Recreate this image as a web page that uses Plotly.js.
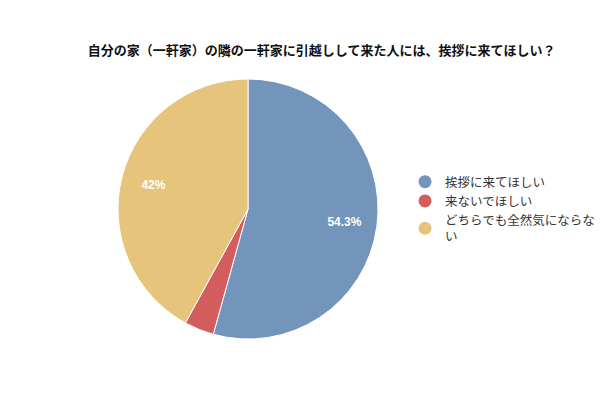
<!DOCTYPE html>
<html>
<head>
<meta charset="utf-8">
<script src="https://cdn.plot.ly/plotly-3.0.1.min.js"></script>
<style>html,body{margin:0;padding:0;background:#fff;}#chart{width:600px;height:400px;}</style>
</head>
<body>
<div id="chart"></div>
<script>
const chartTitle = "自分の家（一軒家）の隣の一軒家に引越しして来た人には、挨拶に来てほしい？";
const categories = ["挨拶に来てほしい", "来ないでほしい", "どちらでも全然気にならない"];
const legendLabels = ["挨拶に来てほしい", "来ないでほしい", "どちらでも全然気にならな<br>い"];
const values = [54.3, 3.7, 42];
const colors = ["#7394bb", "#d35d5d", "#e6c47b"];
const showText = ["inside", "none", "inside"];

const traces = [{
  type: "pie",
  labels: categories,
  values: values,
  sort: false,
  direction: "clockwise",
  rotation: 0,
  marker: {colors: colors, line: {color: "#ffffff", width: 1}},
  textinfo: "none",
  showlegend: false,
  hoverinfo: "label+percent"
}, {
  // transparent overlay ring used only to place the percentage labels
  type: "pie",
  labels: categories,
  values: values,
  sort: false,
  direction: "clockwise",
  rotation: 0,
  hole: 0.5,
  marker: {colors: ["rgba(0,0,0,0)", "rgba(0,0,0,0)", "rgba(0,0,0,0)"], line: {width: 0}},
  textinfo: "percent",
  textposition: showText,
  insidetextorientation: "horizontal",
  textfont: {family: "Arial, Liberation Sans, sans-serif", size: 12, color: "#ffffff", weight: "bold"},
  showlegend: false,
  hoverinfo: "skip"
}];
categories.forEach((c, i) => {
  traces.push({
    type: "scatter",
    mode: "markers",
    x: [null], y: [null],
    name: legendLabels[i],
    marker: {color: colors[i], size: 13, symbol: "circle"},
    showlegend: true,
    hoverinfo: "skip"
  });
});

const layout = {
  width: 600, height: 400,
  margin: {l: 118, r: 222, t: 79, b: 61, autoexpand: false},
  paper_bgcolor: "#ffffff",
  plot_bgcolor: "#ffffff",
  font: {family: "Noto Sans CJK JP, sans-serif", color: "#333333"},
  title: {
    text: chartTitle,
    font: {family: "Noto Sans CJK JP, sans-serif", size: 13, color: "#111111", weight: "bold"},
    xref: "container", x: 0.536, xanchor: "center",
    yref: "container", y: 0.875, yanchor: "middle"
  },
  xaxis: {visible: false},
  yaxis: {visible: false},
  showlegend: true,
  legend: {
    x: 1.104, xanchor: "left", y: 0.5, yanchor: "middle",
    font: {family: "Noto Sans CJK JP, sans-serif", size: 12.5, color: "#333333"},
    bgcolor: "rgba(0,0,0,0)"
  }
};
Plotly.newPlot("chart", traces, layout, {displayModeBar: false, staticPlot: true});
</script>
</body>
</html>
